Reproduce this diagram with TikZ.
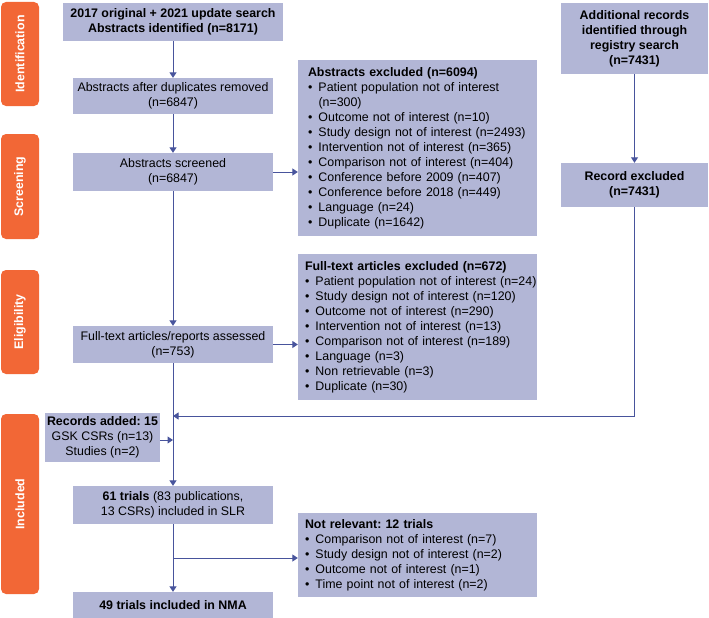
\documentclass[tikz,border=0pt]{standalone}
\usepackage{fontspec}
\setmainfont{Liberation Sans}
\usetikzlibrary{arrows.meta}
\definecolor{boxfill}{RGB}{178,182,214}
\definecolor{tabor}{RGB}{242,103,54}
\definecolor{lnk}{RGB}{72,84,156}
\newcommand{\itm}[1]{\mbox{\makebox[10.5pt][l]{\textbullet}#1}}
\newcommand{\cnt}[1]{\mbox{\hspace*{10.5pt}#1}}
\frenchspacing
\begin{document}
\begin{tikzpicture}[x=1pt,y=-1pt,
  every node/.style={font=\fontsize{12.4pt}{15pt}\selectfont},
  box/.style={fill=boxfill, inner sep=0pt, align=center},
  exbox/.style={fill=boxfill, inner ysep=0pt, align=left},
  tab/.style={fill=tabor, rounded corners=5pt, text=white, font=\fontsize{12.4pt}{15pt}\selectfont\bfseries, rotate=90, inner sep=0pt, minimum height=38},
  link/.style={draw=lnk, line width=1pt, -{Triangle[width=7pt,length=5.5pt]}},
  plain/.style={draw=lnk, line width=1pt}]
\useasboundingbox (0,0) rectangle (709,618);

% phase tabs
\node[tab, minimum width=104] (tid) at (20,54) {Identification};
\node[tab, minimum width=105] (tsc) at (20,186.5) {Screening};
\node[tab, minimum width=104] (tel) at (20,322) {Eligibility};
\node[tab, minimum width=180] (tin) at (20,504) {Included};

% main column
\node[box, minimum width=220, minimum height=38, font=\fontsize{12.4pt}{15pt}\selectfont\bfseries] (b1) at (173,22) {2017 original + 2021 update search\\Abstracts identified (n=8171)};
\node[box, minimum width=200, minimum height=36] (b2) at (173,96) {Abstracts after duplicates removed\\(n=6847)};
\node[box, minimum width=200, minimum height=38] (b3) at (173,172) {Abstracts screened\\(n=6847)};
\node[box, minimum width=200, minimum height=37] (ft) at (173,344.5) {Full-text articles/reports assessed\\(n=753)};
\node[box, minimum width=115, minimum height=49] (ra) at (102.5,437.5) {\textbf{Records added: 15}\\GSK CSRs (n=13)\\Studies (n=2)};
\node[box, minimum width=200, minimum height=38] (t61) at (173,505) {\textbf{61 trials} (83 publications,\\13 CSRs) included in SLR};
\node[box, minimum width=200, minimum height=26, font=\fontsize{12.4pt}{15pt}\selectfont\bfseries] (t49) at (173,605) {49 trials included in NMA};

% right column
\node[box, minimum width=147, minimum height=71, font=\fontsize{12.4pt}{15pt}\selectfont\bfseries] (reg) at (634.5,38.5) {Additional records\\identified through\\registry search\\(n=7431)};
\node[box, minimum width=147, minimum height=44, font=\fontsize{12.4pt}{15pt}\selectfont\bfseries] (rex) at (634.5,185) {Record excluded\\(n=7431)};

% exclusion boxes
\node[exbox, inner xsep=10pt, text width=219pt, minimum height=176] (aex) at (417.5,148) {%
\mbox{\textbf{Abstracts excluded (n=6094)}}\\
\itm{Patient population not of interest}\\
\cnt{(n=300)}\\
\itm{Outcome not of interest (n=10)}\\
\itm{Study design not of interest (n=2493)}\\
\itm{Intervention not of interest (n=365)}\\
\itm{Comparison not of interest (n=404)}\\
\itm{Conference before 2009 (n=407)}\\
\itm{Conference before 2018 (n=449)}\\
\itm{Language (n=24)}\\
\itm{Duplicate (n=1642)}};
\node[exbox, inner xsep=7pt, text width=225pt, minimum height=146] (fex) at (417.5,327) {%
\mbox{\textbf{Full-text articles excluded (n=672)}}\\
\itm{Patient population not of interest (n=24)}\\
\itm{Study design not of interest (n=120)}\\
\itm{Outcome not of interest (n=290)}\\
\itm{Intervention not of interest (n=13)}\\
\itm{Comparison not of interest (n=189)}\\
\itm{Language (n=3)}\\
\itm{Non retrievable (n=3)}\\
\itm{Duplicate (n=30)}};
\node[exbox, inner xsep=7pt, text width=225pt, minimum height=84] (nr) at (417.5,555) {%
\mbox{\textbf{Not relevant: 12 trials}}\\
\itm{Comparison not of interest (n=7)}\\
\itm{Study design not of interest (n=2)}\\
\itm{Outcome not of interest (n=1)}\\
\itm{Time point not of interest (n=2)}};

% connectors
\coordinate (j1) at (173,416);
\coordinate (j2) at (173,440);
\coordinate (j3) at (173,558);
\draw[link] (b1) -- (b2);
\draw[link] (b2) -- (b3);
\draw[link] (b3.east) -- (b3.east -| aex.west);
\draw[link] (b3) -- (ft);
\draw[link] (ft.east) -- (ft.east -| fex.west);
\draw[link] (ft) -- (t61);
\draw[link] (reg) -- (rex);
\draw[link] (rex.south) |- (j1);
\draw[link] (ra.east |- j2) -- (j2);
\draw[link] (t61) -- (t49);
\draw[link] (j3) -- (j3 -| nr.west);
\end{tikzpicture}
\end{document}
